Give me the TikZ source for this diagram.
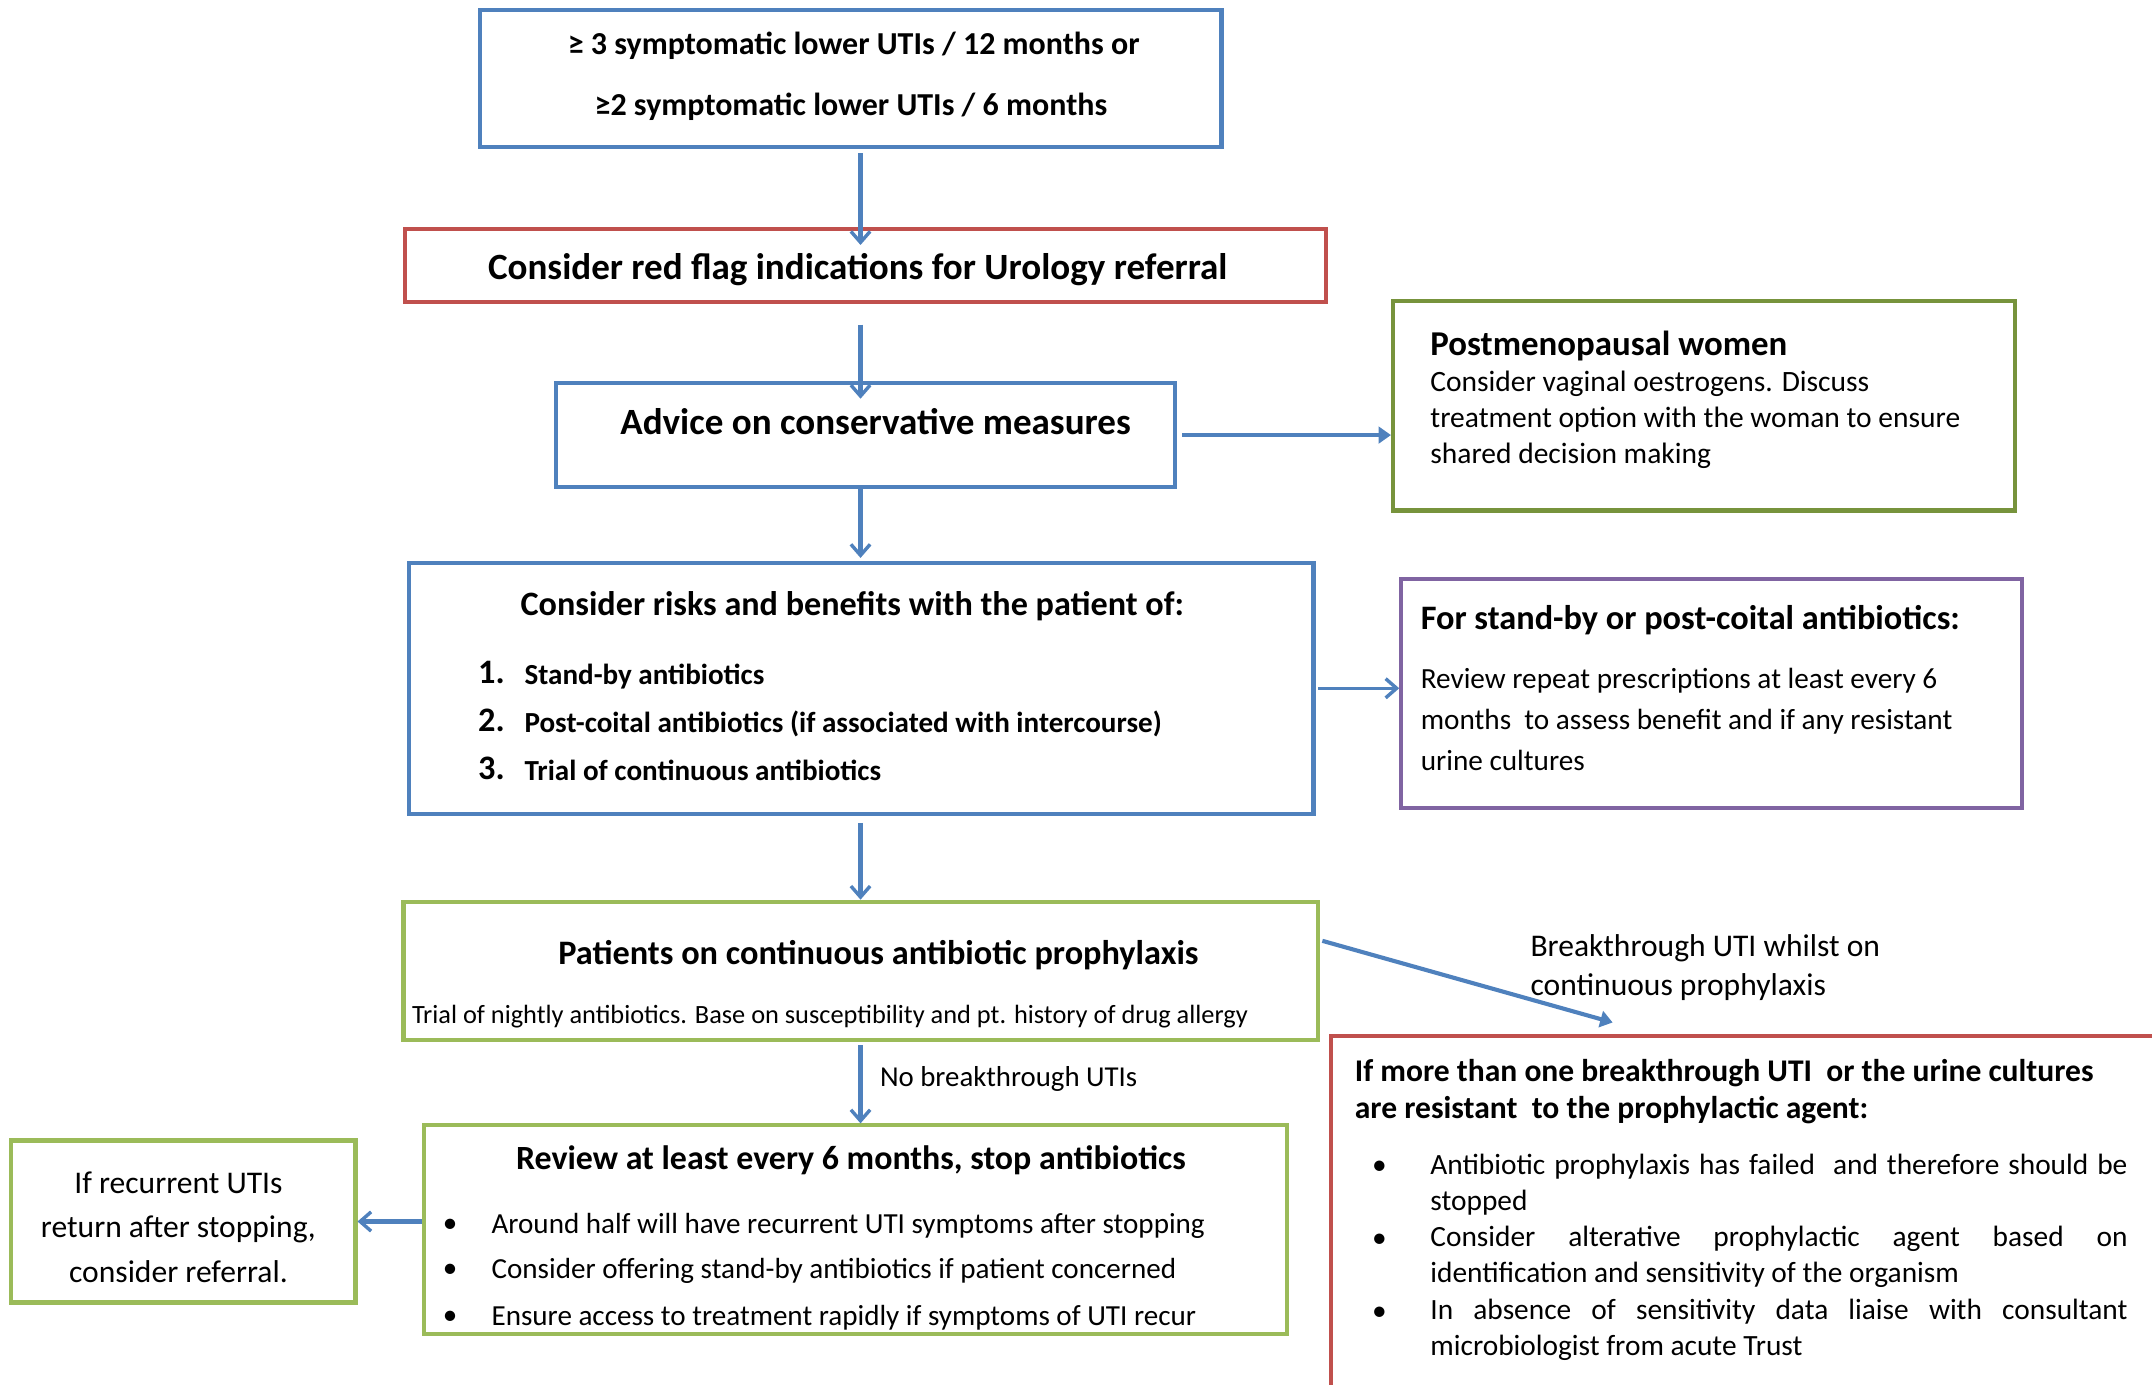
\documentclass[tikz,border=0pt]{standalone}
\usepackage{fontspec}
\setmainfont{Carlito}
\usetikzlibrary{arrows.meta}
\definecolor{cblue}{HTML}{4F81BD}
\definecolor{cred}{HTML}{C0504D}
\definecolor{cgreen}{HTML}{9BBB59}
\definecolor{colive}{HTML}{77933C}
\definecolor{cpurple}{HTML}{8064A2}
\newcommand\fsz[2]{\fontsize{#1}{#2}\selectfont}
\begin{document}
\begin{tikzpicture}[x=1pt,y=-1pt,
  box/.style={draw, line width=3pt, inner sep=0pt},
  txt/.style={inner sep=0pt, text height=0.66em, text depth=0.2em, yshift=-6.5pt},
  mtxt/.style={inner sep=0pt, yshift=-2pt},
  arrv/.style={draw=cblue, line width=3pt, -{Straight Barb[length=8pt,width=14pt,line width=2.5pt]}},
  arrt/.style={draw=cblue, line width=3pt, -{Triangle[length=9pt,width=12pt]}}]
\useasboundingbox (0,0) rectangle (1568,1009);
\clip (0,0) rectangle (1568,1009);

% boxes
\node[box, draw=cblue,   minimum width=540, minimum height=100] (b1) at (620,57) {};
\node[box, draw=cred,    minimum width=671, minimum height=53]  (b2) at (630.5,193.5) {};
\node[box, draw=cblue,   minimum width=451, minimum height=76]  (b3) at (630.5,317) {};
\node[box, draw=colive,  minimum width=453, minimum height=153] (b4) at (1241.5,295.5) {};
\node[box, draw=cblue,   minimum width=659, minimum height=183] (b5) at (627.5,501.5) {};
\node[box, draw=cpurple, minimum width=452, minimum height=167] (b6) at (1247,505.5) {};
\node[box, draw=cgreen,  minimum width=666, minimum height=101] (b7) at (627,707.5) {};
\node[box, draw=cgreen,  minimum width=629, minimum height=152] (b8) at (623.5,896) {};
\node[box, draw=cgreen,  minimum width=251, minimum height=118] (b9) at (133.5,890) {};
\node[box, draw=cred,    minimum width=640, minimum height=300] (b10) at (1290,905) {};

% texts
\node[txt, font=\bfseries\fsz{23.3}{27}] (t1a) at (622,31) {≥ 3 symptomatic lower UTIs / 12 months or};
\node[txt, font=\bfseries\fsz{23.3}{27}] (t1b) at (620,75) {≥2 symptomatic lower UTIs / 6 months};
\node[txt, font=\bfseries\fsz{27}{32}] (t2) at (625,195) {Consider red flag indications for Urology referral};
\node[txt, font=\bfseries\fsz{27}{32}] (t3) at (638,308) {Advice on conservative measures};

\node[txt, anchor=west, font=\bfseries\fsz{25.4}{30}] (t4a) at (1042,250) {Postmenopausal women};
\node[mtxt, anchor=west, align=left, font=\fsz{21.5}{26}] (t4b) at (1042,304) {Consider vaginal oestrogens. Discuss\\treatment option with the woman to ensure\\shared decision making};

\node[txt, font=\bfseries\fsz{24.9}{29}] (t5) at (621,440) {Consider risks and benefits with the patient of:};
\node[txt, anchor=east, font=\bfseries\fsz{25}{29}] (n1) at (368,489) {1.};
\node[txt, anchor=east, font=\bfseries\fsz{25}{29}] (n2) at (368,524) {2.};
\node[txt, anchor=east, font=\bfseries\fsz{25}{29}] (n3) at (368,559) {3.};
\node[txt, anchor=west, font=\bfseries\fsz{21.2}{25}] (l1) at (382,490) {Stand-by antibiotics};
\node[txt, anchor=west, font=\bfseries\fsz{21.2}{25}] (l2) at (382,525) {Post-coital antibiotics (if associated with intercourse)};
\node[txt, anchor=west, font=\bfseries\fsz{21.2}{25}] (l3) at (382,560) {Trial of continuous antibiotics};

\node[txt, anchor=west, font=\bfseries\fsz{25}{29}] (t6a) at (1035,450) {For stand-by or post-coital antibiotics:};
\node[mtxt, anchor=west, align=left, font=\fsz{21.3}{30}] (t6b) at (1035,522) {Review repeat prescriptions at least every 6\\months\ \ to assess benefit and if any resistant\\urine cultures};

\node[txt, font=\bfseries\fsz{25}{29}] (t7a) at (640,694) {Patients on continuous antibiotic prophylaxis};
\node[txt, anchor=west, font=\fsz{19.2}{23}] (t7b) at (300,737) {Trial of nightly antibiotics. Base on susceptibility and pt. history of drug allergy};

\node[txt, font=\bfseries\fsz{24.7}{29}] (t8a) at (620,843) {Review at least every 6 months, stop antibiotics};
\node[txt, font=\fsz{21.2}{25}] (d1) at (328,889) {•};
\node[txt, font=\fsz{21.2}{25}] (d2) at (328,922) {•};
\node[txt, font=\fsz{21.2}{25}] (d3) at (328,956) {•};
\node[txt, anchor=west, font=\fsz{21.2}{25}] (r1) at (358,890) {Around half will have recurrent UTI symptoms after stopping};
\node[txt, anchor=west, font=\fsz{21.2}{25}] (r2) at (358,923) {Consider offering stand-by antibiotics if patient concerned};
\node[txt, anchor=west, font=\fsz{21.2}{25}] (r3) at (358,957) {Ensure access to treatment rapidly if symptoms of UTI recur};

\node[mtxt, align=center, font=\fsz{23}{32.5}] (t9) at (130,892) {If recurrent UTIs\\return after stopping,\\consider referral.};

\node[mtxt, anchor=west, align=left, font=\fsz{23}{29}] (lab1) at (1115,703) {Breakthrough UTI whilst on\\continuous prophylaxis};
\node[txt, anchor=west, font=\fsz{21}{25}] (lab2) at (641,783) {No breakthrough UTIs};

\node[mtxt, anchor=west, align=left, font=\bfseries\fsz{23}{27}] (t10) at (987,793.5) {If more than one breakthrough UTI\ \ or the urine cultures\\are resistant\ \ to the prophylactic agent:};
\node[txt, font=\fsz{21.4}{25}] (e1) at (1005,847) {•};
\node[txt, font=\fsz{21.4}{25}] (e2) at (1005,900) {•};
\node[txt, font=\fsz{21.4}{25}] (e3) at (1005,953) {•};
\node[mtxt, anchor=west, text width=508, align=justify, font=\fsz{21.4}{26.3}] (p1) at (1042,861) {Antibiotic prophylaxis has failed\ \ and therefore should be\linebreak stopped};
\node[mtxt, anchor=west, text width=508, align=justify, font=\fsz{21.4}{26.3}] (p2) at (1042,914) {Consider alterative prophylactic agent based on\linebreak identification and sensitivity of the organism};
\node[mtxt, anchor=west, text width=508, align=justify, font=\fsz{21.4}{26.3}] (p3) at (1042,967) {In absence of sensitivity data liaise with consultant\linebreak microbiologist from acute Trust};

% connectors
\coordinate (mx) at (627,0);
\coordinate (bt) at (1175,745);
\draw[arrv] ([yshift=-3pt]b1.south -| mx) -- ([yshift=-13pt]b2.north -| mx);
\draw[arrv] ([yshift=-15pt]b2.south -| mx) -- ([yshift=-13pt]b3.north -| mx);
\draw[arrv] (b3.south -| mx) -- ([yshift=2pt]b5.north -| mx);
\draw[arrt] ([xshift=4pt]b3.east) -- (b3.east -| b4.west);
\draw[arrv, line width=2pt] ([xshift=2pt]b5.east) -- (b5.east -| b6.west);
\draw[arrv] ([yshift=-5pt]b5.south -| mx) -- (b7.north -| mx);
\draw[arrv] ([yshift=-2pt]b7.south -| mx) -- (b8.north -| mx);
\draw[arrt] ([xshift=2pt,yshift=22pt]b7.east) -- (bt);
\draw[arrv, line width=4pt] (b8.west |- b9.east) -- (b9.east);
\end{tikzpicture}
\end{document}
